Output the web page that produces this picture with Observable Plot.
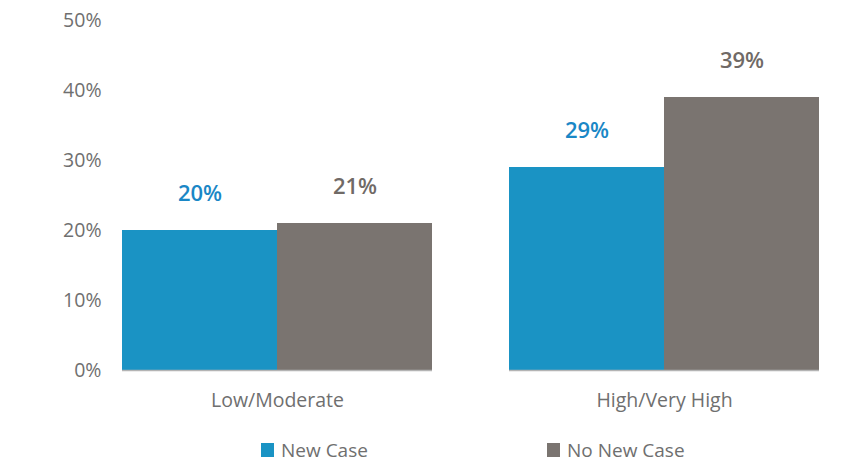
<!DOCTYPE html>
<html><head><meta charset="utf-8">
<script src="https://cdn.jsdelivr.net/npm/d3@7"></script>
<script src="https://cdn.jsdelivr.net/npm/@observablehq/plot@0.6"></script>
<style>
body{margin:0;background:#fff;font-family:"Open Sans",sans-serif;}
#wrap{position:relative;width:857px;height:464px;}
.leg{position:absolute;top:437px;line-height:normal;font-size:19px;color:#6f6f6f;display:flex;align-items:center;white-space:nowrap;}
.sw{width:13px;height:14px;display:inline-block;margin-right:7px;}
</style></head><body>
<div id="wrap"></div>
<script>
const categories = ["Low/Moderate", "High/Very High"];
const series = ["New Case", "No New Case"];
const newCase = [20, 29];
const noNewCase = [21, 39];
const yTicks = [0, 10, 20, 30, 40, 50];
const colors = ["#1a93c4", "#7a7470"];
const labelColors = ["#1a87c6", "#706a66"];

const data = [];
categories.forEach((c, i) => {
  data.push({cat: c, s: series[0], v: newCase[i]});
  data.push({cat: c, s: series[1], v: noNewCase[i]});
});

const chart = Plot.plot({
  width: 857, height: 430,
  marginLeft: 83, marginRight: 0, marginTop: 20, marginBottom: 60,
  style: {fontFamily: "'Open Sans', sans-serif", fontSize: "19px", color: "#6f6f6f", background: "#fff"},
  fx: {domain: categories, paddingInner: 0.2, paddingOuter: 0.1, label: null},
  x: {domain: series, padding: 0, axis: null},
  y: {domain: [0, 50], ticks: yTicks, tickFormat: d => d + "%", label: null},
  color: {domain: series, range: colors},
  marks: [
    Plot.barY(data, {fx: "cat", x: "s", y: "v", fill: "s"}),
    Plot.text(data, {fx: "cat", x: "s", y: "v", text: d => d.v + "%", dy: -37, fontSize: 22, fontWeight: 600,
      fill: d => labelColors[series.indexOf(d.s)]}),
    Plot.ruleY([0], {stroke: "#b4b4b4", strokeWidth: 1.5}),
    Plot.axisY({ticks: yTicks, tickFormat: d => d + "%", tickSize: 0, tickPadding: 21, fontSize: 19.5, fill: "#6f6f6f", label: null}),
    Plot.axisFx({anchor: "bottom", tickSize: 0, tickPadding: 23, fontSize: 19.5, fill: "#6f6f6f", label: null})
  ]
});
const wrap = document.getElementById("wrap");
wrap.appendChild(chart);
const legX = [261, 547];
series.forEach((s, i) => {
  const d = document.createElement("div");
  d.className = "leg";
  d.style.left = legX[i] + "px";
  d.innerHTML = `<span class="sw" style="background:${colors[i]}"></span>${s}`;
  wrap.appendChild(d);
});
</script>
</body></html>
